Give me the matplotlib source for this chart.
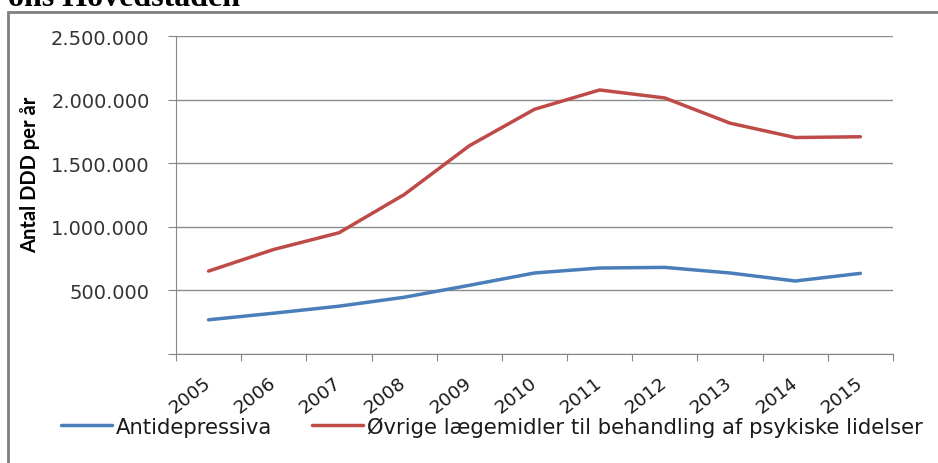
import matplotlib.pyplot as plt
from matplotlib.patches import Rectangle
from matplotlib.ticker import FuncFormatter

years = ['2005', '2006', '2007', '2008', '2009', '2010', '2011', '2012', '2013', '2014', '2015']
antidepressiva = [269000, 321000, 376000, 446000, 540000, 637000, 676000, 681000, 637000, 574000, 634000]
oevrige = [652000, 822000, 953000, 1253000, 1637000, 1924000, 2076000, 2013000, 1815000, 1702000, 1708000]
yticks = [0, 500000, 1000000, 1500000, 2000000, 2500000]

plt.rcParams['font.family'] = ['DejaVu Sans']

fig = plt.figure(figsize=(9.38, 4.64), dpi=100)
ax = fig.add_axes([0.1876, 0.2349, 0.7644, 0.6853])

x = range(len(years))
ax.plot(x, antidepressiva, color='#4A7EBB', lw=2.5, label='Antidepressiva', solid_capstyle='round')
ax.plot(x, oevrige, color='#BE4B48', lw=2.5, label='Øvrige lægemidler til behandling af psykiske lidelser',
        solid_capstyle='round')

ax.set_xlim(-0.5, len(years) - 0.5)
ax.set_ylim(0, 2500000)
ax.set_yticks(yticks)
ax.yaxis.set_major_formatter(FuncFormatter(lambda v, p: '' if v == 0 else f'{int(v):,}'.replace(',', '.')))
ax.set_xticks([i - 0.5 for i in range(len(years) + 1)])
ax.set_xticklabels([])
ax.set_xticks(list(x), minor=True)
ax.set_xticklabels(years, minor=True, rotation=38, ha='right', va='center', rotation_mode='anchor',
                   fontsize=13.3, color='#1a1a1a')
ax.tick_params(axis='x', which='minor', length=0, pad=19)
ax.tick_params(axis='x', which='major', length=5, color='#868686')
ax.tick_params(axis='y', length=6, color='#868686', labelsize=14, labelcolor='#333333', pad=13)

ax.grid(axis='y', color='#8c8c8c', lw=1)
for s in ['top', 'right']:
    ax.spines[s].set_visible(False)
for s in ['left', 'bottom']:
    ax.spines[s].set_color('#868686')

ax.set_ylabel('Antal DDD per år', fontsize=14.5, fontweight='bold', family=['Lato', 'DejaVu Sans'])
ax.yaxis.set_label_coords(-0.19, 0.566)

leg = fig.legend(loc='lower left', bbox_to_anchor=(0.045, 0.016), ncol=2, frameon=False, fontsize=15.2,
                 handlelength=2.4, handletextpad=0.2, columnspacing=1.9)
for t in leg.get_texts():
    t.set_color('#1a1a1a')

fig.patches.append(Rectangle((8 / 938, -0.1), 1.1, 1 - 13 / 464 + 0.1, transform=fig.transFigure,
                             fill=False, edgecolor='#7f7f7f', lw=2))
fig.text(0.0085, 0.987, 'ons Hovedstaden', family=['Liberation Serif', 'DejaVu Serif'], fontweight='bold',
         fontsize=23, va='baseline', ha='left')

fig.savefig('out.png', dpi=100)
